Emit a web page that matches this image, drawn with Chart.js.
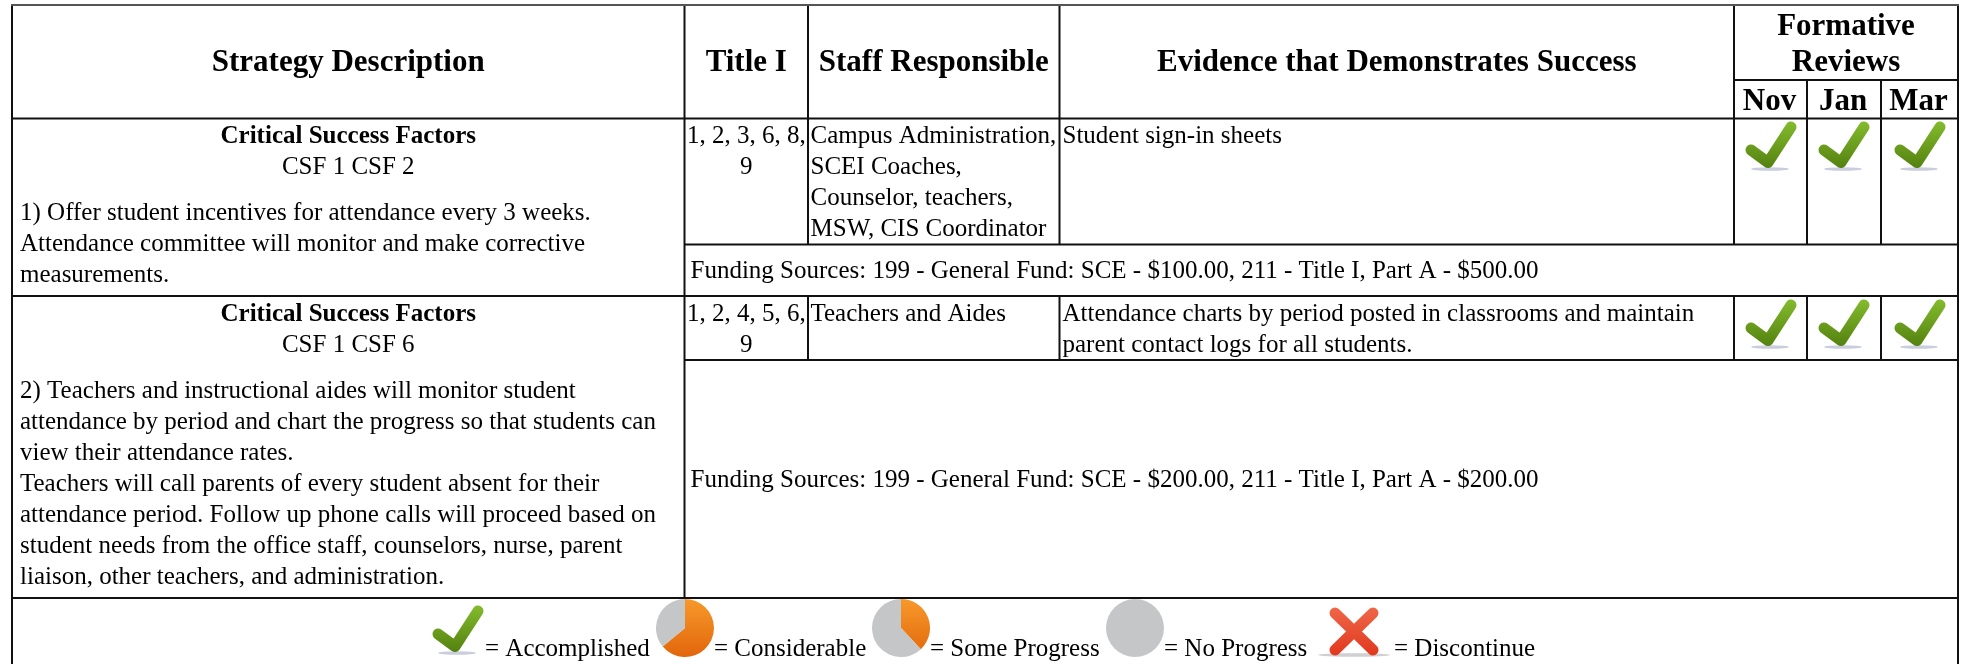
<!DOCTYPE html>
<html>
<head>
<meta charset="utf-8">
<title>Strategy table</title>
<script src="https://cdn.jsdelivr.net/npm/chart.js@4"></script>
<style>
html, body { margin: 0; padding: 0; background: #fff; overflow: hidden; }
#wrap { position: relative; width: 1963px; height: 664px; }
#wrap canvas { position: absolute; }
</style>
</head>
<body>
<div id="wrap"><canvas id="table" width="1963" height="664"></canvas></div>
<script>
// table content
const headers = ['Strategy Description', 'Title I', 'Staff Responsible', 'Evidence that Demonstrates Success'];
const reviewTitle = ['Formative', 'Reviews'];
const reviewMonths = ['Nov', 'Jan', 'Mar'];
const factorsTitle = 'Critical Success Factors';
const factors = ['CSF 1 CSF 2', 'CSF 1 CSF 6'];
const strategy1 = ['1) Offer student incentives for attendance every 3 weeks.', 'Attendance committee will monitor and make corrective', 'measurements.'];
const strategy2 = ['2) Teachers and instructional aides will monitor student', 'attendance by period and chart the progress so that students can', 'view their attendance rates.', 'Teachers will call parents of every student absent for their', 'attendance period. Follow up phone calls will proceed based on', 'student needs from the office staff, counselors, nurse, parent', 'liaison, other teachers, and administration.'];
const titleOne = [['1, 2, 3, 6, 8,', '9'], ['1, 2, 4, 5, 6,', '9']];
const staff = [['Campus Administration,', 'SCEI Coaches,', 'Counselor, teachers,', 'MSW, CIS Coordinator'], ['Teachers and Aides']];
const evidence = [['Student sign-in sheets'], ['Attendance charts by period posted in classrooms and maintain', 'parent contact logs for all students.']];
const funding = ['Funding Sources: 199 - General Fund: SCE - $100.00, 211 - Title I, Part A - $500.00', 'Funding Sources: 199 - General Fund: SCE - $200.00, 211 - Title I, Part A - $200.00'];
const legendLabels = ['= Accomplished', '= Considerable', '= Some Progress', '= No Progress', '= Discontinue'];
// share of the pie that is done / not done
const pieDone = [64, 38, 0];
const pieLeft = [36, 62, 100];

// layout, in page pixels
const colX = [12, 684.5, 808, 1059.5, 1734, 1807, 1881, 1958];
const rowY = [5, 80, 118.5, 244.5, 296, 360, 598];
const lineStep = 31;
const checkX = [1772, 1845, 1921];
const checkY = [146, 324];
const legendTextX = [485, 714, 930, 1164, 1394];
const legendPieX = [656, 872, 1106];

function rule(x0, y0, x1, y1) { return [{ x: x0, y: y0 }, { x: x1, y: y1 }, { x: null, y: null }]; }
const topRule = rule(colX[0] - 1, rowY[0], colX[7] + 1, rowY[0]);
const rules = [].concat(
  rule(colX[4], rowY[1], colX[7], rowY[1]),
  rule(colX[0], rowY[2], colX[7], rowY[2]),
  rule(colX[1], rowY[3], colX[7], rowY[3]),
  rule(colX[0], rowY[4], colX[7], rowY[4]),
  rule(colX[1], rowY[5], colX[7], rowY[5]),
  rule(colX[0], rowY[6], colX[7], rowY[6]),
  rule(colX[0], rowY[0], colX[0], 664),
  rule(colX[7], rowY[0], colX[7], 664),
  rule(colX[1], rowY[0], colX[1], rowY[6]),
  rule(colX[2], rowY[0], colX[2], rowY[3]),
  rule(colX[3], rowY[0], colX[3], rowY[3]),
  rule(colX[2], rowY[4], colX[2], rowY[5]),
  rule(colX[3], rowY[4], colX[3], rowY[5]),
  rule(colX[4], rowY[0], colX[4], rowY[3]),
  rule(colX[4], rowY[4], colX[4], rowY[5]),
  rule(colX[5], rowY[1], colX[5], rowY[3]),
  rule(colX[6], rowY[1], colX[6], rowY[3]),
  rule(colX[5], rowY[4], colX[5], rowY[5]),
  rule(colX[6], rowY[4], colX[6], rowY[5])
);

function checkIcon() {
  const c = document.createElement('canvas');
  c.width = 54; c.height = 54;
  const g = c.getContext('2d');
  g.filter = 'blur(0.7px)';
  g.fillStyle = 'rgba(120,130,170,0.4)';
  g.beginPath(); g.ellipse(25, 50, 19, 1.8, 0, 0, Math.PI * 2); g.fill();
  const grad = g.createLinearGradient(0, 2, 0, 50);
  grad.addColorStop(0, '#84bc2e');
  grad.addColorStop(1, '#53800f');
  g.strokeStyle = grad;
  g.lineWidth = 11; g.lineCap = 'round'; g.lineJoin = 'round';
  g.beginPath(); g.moveTo(6, 31); g.lineTo(23, 43.5); g.lineTo(46, 8); g.stroke();
  return c;
}
function crossIcon() {
  const c = document.createElement('canvas');
  c.width = 80; c.height = 54;
  const g = c.getContext('2d');
  g.filter = 'blur(0.7px)';
  g.fillStyle = 'rgba(120,120,120,0.35)';
  g.beginPath(); g.ellipse(39, 52, 36, 1.8, 0, 0, Math.PI * 2); g.fill();
  const grad = g.createLinearGradient(0, 2, 0, 50);
  grad.addColorStop(0, '#ef6a4a');
  grad.addColorStop(1, '#e23a20');
  g.strokeStyle = grad;
  g.lineWidth = 11; g.lineCap = 'round';
  g.beginPath(); g.moveTo(20, 10); g.lineTo(58, 47); g.moveTo(58, 10); g.lineTo(20, 47); g.stroke();
  return c;
}

const checkPoints = [];
checkY.forEach(y => checkX.forEach(x => checkPoints.push({ x: x, y: y })));
checkPoints.push({ x: 459, y: 630 });

const textPlugin = {
  id: 'tableText',
  afterDatasetsDraw(chart) {
    const ctx = chart.ctx, sx = chart.scales.x, sy = chart.scales.y;
    const put = (str, x, y, align, font) => {
      ctx.font = font + ' "Liberation Serif"';
      ctx.textAlign = align;
      ctx.textBaseline = 'alphabetic';
      ctx.fillStyle = '#000';
      ctx.fillText(str, sx.getPixelForValue(x), sy.getPixelForValue(y));
    };
    const body = '25px', head = 'bold 31px';
    const lines = (arr, x, y, align) => arr.forEach((s, i) => put(s, x, y + i * lineStep, align, body));
    const mid = i => (colX[i] + colX[i + 1]) / 2;

    headers.forEach((h, i) => put(h, mid(i), 71, 'center', head));
    const reviewMid = (colX[4] + colX[7]) / 2;
    put(reviewTitle[0], reviewMid, 35, 'center', head);
    put(reviewTitle[1], reviewMid, 71, 'center', head);
    reviewMonths.forEach((m, i) => put(m, mid(4 + i) - 1, 110, 'center', head));

    const baseY = [143, 321];
    baseY.forEach((y, i) => {
      put(factorsTitle, mid(0), y, 'center', 'bold 25px');
      put(factors[i], mid(0), y + lineStep, 'center', body);
      lines(titleOne[i], mid(1), y, 'center');
      lines(staff[i], colX[2] + 2.5, y, 'left');
      lines(evidence[i], colX[3] + 3, y, 'left');
    });
    lines(strategy1, 20, 220, 'left');
    lines(strategy2, 20, 398, 'left');
    put(funding[0], colX[1] + 6, 277.5, 'left', body);
    put(funding[1], colX[1] + 6, 487, 'left', body);
    legendLabels.forEach((s, i) => put(s, legendTextX[i], 656, 'left', body));
  }
};

new Chart(document.getElementById('table'), {
  type: 'scatter',
  data: {
    datasets: [
      { data: topRule, showLine: true, spanGaps: false, borderColor: '#555', borderWidth: 2, pointRadius: 0 },
      { data: rules, showLine: true, spanGaps: false, borderColor: '#111', borderWidth: 2, pointRadius: 0 },
      { data: checkPoints, pointStyle: checkIcon(), pointRadius: 27, showLine: false },
      { data: [{ x: 1355, y: 630 }], pointStyle: crossIcon(), pointRadius: 27, showLine: false }
    ]
  },
  options: {
    responsive: false,
    animation: false,
    layout: { padding: 0, autoPadding: false },
    plugins: { legend: { display: false }, tooltip: { enabled: false } },
    scales: {
      x: { type: 'linear', display: false, min: 0, max: 1963 },
      y: { type: 'linear', display: false, min: 0, max: 664, reverse: true }
    }
  },
  plugins: [textPlugin]
});

// the progress pies in the key are small charts of their own
pieDone.forEach((done, i) => {
  const c = document.createElement('canvas');
  c.width = 58; c.height = 60;
  c.style.left = legendPieX[i] + 'px';
  c.style.top = '598px';
  document.getElementById('wrap').appendChild(c);
  const g = c.getContext('2d');
  const orange = g.createLinearGradient(0, 0, 0, 60);
  orange.addColorStop(0, '#f79a2c');
  orange.addColorStop(1, '#e2650a');
  new Chart(c, {
    type: 'pie',
    data: {
      labels: ['done', 'left'],
      datasets: [{ data: [done, pieLeft[i]], backgroundColor: [orange, '#c4c6c8'], borderWidth: 0 }]
    },
    options: {
      responsive: false,
      animation: false,
      layout: { padding: 0 },
      plugins: { legend: { display: false }, tooltip: { enabled: false } }
    }
  });
});
</script>
</body>
</html>
